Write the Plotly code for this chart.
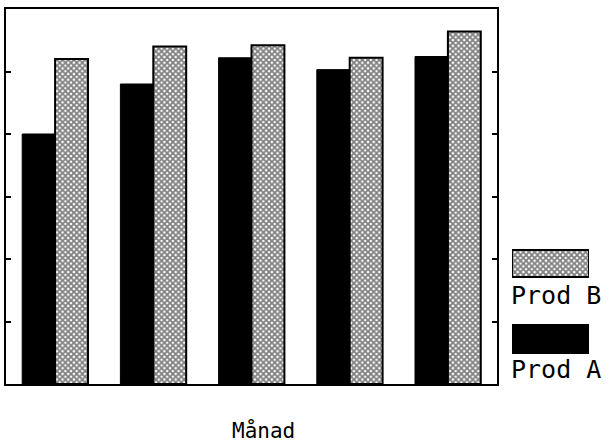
import plotly.graph_objects as go

# Monthly figures for the two products
months = ["Jan", "Feb", "Mar", "Apr", "Maj"]
prod_a = [4.0, 4.8, 5.22, 5.03, 5.24]
prod_b = [5.2, 5.4, 5.42, 5.22, 5.64]
series_names = ["Prod A", "Prod B"]
x_title = "Månad"

W, H = 616, 443
ML, MR, MT, MB = 6, 0, 9, 59
PW = W - ML - MR          # paper width in px
PH = H - MT - MB          # paper height in px
PLOT_RIGHT = 497          # right edge of the framed plot, px

def px_x(x):
    return (x - ML) / PW

def px_y(y):
    return (H - MB - y) / PH

FONT = "DejaVu Sans Mono"
checker = dict(shape="x", size=4, solidity=0.7, fgcolor="black", bgcolor="white")

fig = go.Figure()
fig.add_trace(go.Bar(
    x=months, y=prod_a, name=series_names[0],
    marker=dict(color="black", line=dict(color="black", width=1)),
    showlegend=False,
))
fig.add_trace(go.Bar(
    x=months, y=prod_b, name=series_names[1],
    marker=dict(color="white", pattern=checker, line=dict(color="black", width=2)),
    showlegend=False,
))

# Legend swatches drawn on a small auxiliary axis to the right of the frame
def swatch(y0, y1, fillcolor, pattern=None):
    kw = dict(fillpattern=pattern) if pattern else {}
    fig.add_trace(go.Scatter(
        x=[0, 1, 1, 0, 0], y=[y0, y0, y1, y1, y0],
        xaxis="x2", yaxis="y2", mode="lines", fill="toself",
        fillcolor=fillcolor, line=dict(color="black", width=2),
        hoverinfo="skip", showlegend=False, **kw,
    ))

swatch(px_y(277), px_y(250), "white", checker)
swatch(px_y(353), px_y(325), "black")

fig.update_layout(
    width=W, height=H,
    margin=dict(l=ML, r=MR, t=MT, b=MB),
    paper_bgcolor="white", plot_bgcolor="white",
    barmode="group", bargap=0.33, bargroupgap=0.0,
    xaxis=dict(
        domain=[0, px_x(PLOT_RIGHT)],
        showticklabels=False, ticks="", showgrid=False, zeroline=False,
        showline=True, linecolor="black", linewidth=2, mirror=True,
    ),
    yaxis=dict(
        range=[0, 6], tickvals=[1, 2, 3, 4, 5], ticks="inside", ticklen=5,
        tickwidth=2, tickcolor="black", showticklabels=False,
        showgrid=False, zeroline=False,
        showline=True, linecolor="black", linewidth=2, mirror="ticks",
    ),
    xaxis2=dict(domain=[px_x(512), px_x(589)], range=[0, 1], visible=False,
                anchor="y2"),
    yaxis2=dict(domain=[0, 1], range=[0, 1], visible=False, anchor="x2"),
    annotations=[
        dict(text=series_names[1], x=px_x(509), y=px_y(295), xref="paper", yref="paper",
             xanchor="left", yanchor="middle", showarrow=False,
             font=dict(family=FONT, size=25, color="black")),
        dict(text=series_names[0], x=px_x(509), y=px_y(369), xref="paper", yref="paper",
             xanchor="left", yanchor="middle", showarrow=False,
             font=dict(family=FONT, size=25, color="black")),
        dict(text=x_title, x=px_x(263), y=px_y(430), xref="paper", yref="paper",
             xanchor="center", yanchor="middle", showarrow=False,
             font=dict(family=FONT, size=21, color="black")),
    ],
)

fig.write_html("out.html")
